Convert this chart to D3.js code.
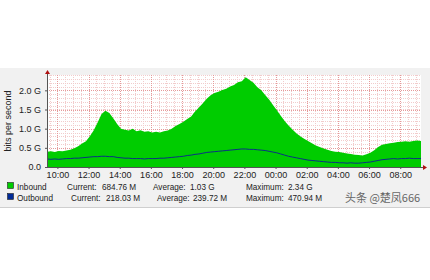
<!DOCTYPE html>
<html>
<head>
<meta charset="utf-8">
<script src="https://cdn.jsdelivr.net/npm/d3@7"></script>
<style>
  body { margin: 0; background: #fff; }
  svg { display: block; font-family: "Liberation Sans", Arial, sans-serif; }
</style>
</head>
<body>
<script>
// samples every 15 minutes, starting 09:20 and ending 09:20 next day (values in G bits/s)
const startTime = new Date(2020, 0, 1, 9, 20);
const stepMinutes = 15;

const inbound = [
  0.40, 0.41, 0.39, 0.42,
  0.41, 0.43, 0.45, 0.49,
  0.54, 0.61, 0.67, 0.80,
  0.96, 1.16, 1.38, 1.47,
  1.41, 1.27, 1.12, 1.00,
  0.97, 0.95, 1.00, 0.93,
  0.96, 0.92, 0.93, 0.90,
  0.92, 0.90, 0.93, 0.95,
  1.00, 1.07, 1.12, 1.18,
  1.25, 1.32, 1.45, 1.55,
  1.66, 1.78, 1.87, 1.93,
  1.96, 2.01, 2.04, 2.10,
  2.14, 2.21, 2.24, 2.34,
  2.27, 2.20, 2.08, 2.00,
  1.88, 1.76, 1.62, 1.48,
  1.34, 1.20, 1.08, 0.98,
  0.88, 0.80, 0.74, 0.68,
  0.62, 0.56, 0.52, 0.48,
  0.45, 0.42, 0.40, 0.39,
  0.37, 0.35, 0.34, 0.32,
  0.31, 0.30, 0.33, 0.37,
  0.44, 0.52, 0.58, 0.60,
  0.62, 0.63, 0.65, 0.66,
  0.67, 0.66, 0.68, 0.69,
  0.68
];

const outbound = [
  0.21, 0.20, 0.21, 0.20,
  0.21, 0.22, 0.22, 0.23,
  0.23, 0.24, 0.25, 0.26,
  0.27, 0.27, 0.28, 0.28,
  0.27, 0.27, 0.25, 0.24,
  0.23, 0.23, 0.22, 0.22,
  0.22, 0.21, 0.22, 0.22,
  0.22, 0.23, 0.23, 0.24,
  0.25, 0.26, 0.27, 0.28,
  0.30, 0.31, 0.33, 0.34,
  0.36, 0.38, 0.39, 0.40,
  0.41, 0.42, 0.43, 0.44,
  0.45, 0.46, 0.47, 0.47,
  0.46, 0.46, 0.45, 0.44,
  0.43, 0.41, 0.39, 0.37,
  0.34, 0.31, 0.28, 0.26,
  0.24, 0.22, 0.20, 0.18,
  0.17, 0.16, 0.15, 0.14,
  0.13, 0.12, 0.12, 0.11,
  0.11, 0.10, 0.11, 0.10,
  0.10, 0.11, 0.12, 0.13,
  0.15, 0.17, 0.19, 0.20,
  0.21, 0.22, 0.21, 0.22,
  0.22, 0.23, 0.22, 0.22,
  0.22
];

const yTicks = [0, 0.5, 1.0, 1.5, 2.0];
const yTickLabels = ["0.0", "0.5 G", "1.0 G", "1.5 G", "2.0 G"];

const legendRows = [
  { name: "Inbound", color: "#00cc00", current: "684.76 M", average: "1.03 G", maximum: "2.34 G" },
  { name: "Outbound", color: "#002a97", current: "218.03 M", average: "239.72 M", maximum: "470.94 M" }
];

const width = 430;
const height = 280;
const plot = { left: 47, right: 421, top: 75, bottom: 167 };

const timeAt = (i) => new Date(startTime.getTime() + i * stepMinutes * 60000);
const inData = inbound.map((v, i) => [timeAt(i), v]);
const outData = outbound.map((v, i) => [timeAt(i), v]);
const endTime = timeAt(inbound.length - 1);

const xScale = d3.scaleTime().domain([startTime, endTime]).range([plot.left, plot.right]);
const yScale = d3.scaleLinear().domain([0, 2.4]).range([plot.bottom, plot.top]);

const svg = d3
  .select("body")
  .append("svg")
  .attr("width", width)
  .attr("height", height);

// grey canvas of the rrd image
svg
  .append("rect")
  .attr("x", 0)
  .attr("y", 68)
  .attr("width", width)
  .attr("height", 139)
  .attr("fill", "#f1f1f1");

svg
  .append("line")
  .attr("x1", 0)
  .attr("x2", width)
  .attr("y1", 207.5)
  .attr("y2", 207.5)
  .attr("stroke", "#cfcfcf");

svg
  .append("rect")
  .attr("x", plot.left)
  .attr("y", plot.top)
  .attr("width", plot.right - plot.left)
  .attr("height", plot.bottom - plot.top)
  .attr("fill", "#ffffff");

// grid
const grid = svg.append("g");
const minorY = d3.range(0.1, 2.41, 0.1);
grid
  .selectAll("line.hminor")
  .data(minorY)
  .enter()
  .append("line")
  .attr("x1", plot.left)
  .attr("x2", plot.right)
  .attr("y1", (d) => Math.round(yScale(d)) + 0.5)
  .attr("y2", (d) => Math.round(yScale(d)) + 0.5)
  .attr("stroke", "#f2cccc")
  .attr("stroke-dasharray", "1,1");

const minorX = d3.timeMinute.every(30).range(startTime, endTime);
grid
  .selectAll("line.vminor")
  .data(minorX)
  .enter()
  .append("line")
  .attr("x1", (d) => Math.round(xScale(d)) + 0.5)
  .attr("x2", (d) => Math.round(xScale(d)) + 0.5)
  .attr("y1", plot.top)
  .attr("y2", plot.bottom)
  .attr("stroke", "#f2cccc")
  .attr("stroke-dasharray", "1,1");

grid
  .selectAll("line.hmajor")
  .data(yTicks.slice(1))
  .enter()
  .append("line")
  .attr("x1", plot.left)
  .attr("x2", plot.right)
  .attr("y1", (d) => Math.round(yScale(d)) + 0.5)
  .attr("y2", (d) => Math.round(yScale(d)) + 0.5)
  .attr("stroke", "#e59a9a")
  .attr("stroke-dasharray", "1,1");

const majorX = d3.timeHour.every(2).range(startTime, endTime);
grid
  .selectAll("line.vmajor")
  .data(majorX)
  .enter()
  .append("line")
  .attr("x1", (d) => Math.round(xScale(d)) + 0.5)
  .attr("x2", (d) => Math.round(xScale(d)) + 0.5)
  .attr("y1", plot.top)
  .attr("y2", plot.bottom)
  .attr("stroke", "#e59a9a")
  .attr("stroke-dasharray", "1,1");

// inbound area
svg
  .append("path")
  .datum(inData)
  .attr("fill", "#00cc00")
  .attr(
    "d",
    d3
      .area()
      .x((d) => xScale(d[0]))
      .y0(yScale(0))
      .y1((d) => yScale(d[1]))
  );

// outbound line
svg
  .append("path")
  .datum(outData)
  .attr("fill", "none")
  .attr("stroke", "#0b2f86")
  .attr("stroke-width", 1)
  .attr(
    "d",
    d3
      .line()
      .x((d) => xScale(d[0]))
      .y((d) => yScale(d[1]))
  );

// axes
const yAxis = svg
  .append("g")
  .attr("transform", `translate(${plot.left}, 0)`)
  .call(
    d3
      .axisLeft(yScale)
      .tickValues(yTicks)
      .tickSize(2)
      .tickPadding(4)
      .tickFormat((d, i) => yTickLabels[i])
  );
yAxis.select(".domain").attr("d", `M0.5,${plot.bottom}V${plot.top - 1}`).attr("stroke", "#555");
yAxis.selectAll("text").style("font-size", "9px").attr("fill", "#222");
yAxis.selectAll("line").attr("stroke", "#555");

const xAxis = svg
  .append("g")
  .attr("transform", `translate(0, ${plot.bottom})`)
  .call(
    d3
      .axisBottom(xScale)
      .ticks(d3.timeHour.every(2))
      .tickSize(2)
      .tickPadding(3)
      .tickFormat(d3.timeFormat("%H:%M"))
  );
xAxis.select(".domain").attr("d", `M${plot.left},0.5H${plot.right + 2}`).attr("stroke", "#555");
xAxis.selectAll("text").style("font-size", "9px").attr("fill", "#222");
xAxis.selectAll("line").attr("stroke", "#555");

// arrow heads
svg
  .append("path")
  .attr("d", `M${plot.left - 2},${plot.top - 1}L${plot.left + 3},${plot.top - 1}L${plot.left + 0.5},${plot.top - 5}Z`)
  .attr("fill", "#b01010");
svg
  .append("path")
  .attr("d", `M${plot.right + 2},${plot.bottom - 2}L${plot.right + 2},${plot.bottom + 3}L${plot.right + 6},${plot.bottom + 0.5}Z`)
  .attr("fill", "#b01010");

svg
  .append("text")
  .attr("transform", "rotate(-90)")
  .attr("x", -121)
  .attr("y", 11)
  .attr("text-anchor", "middle")
  .style("font-size", "9px")
  .attr("fill", "#222")
  .text("bits per second");

// legend
const legendY = [187, 198];
const legendCols = [
  { label: [67, 71], value: [102, 106] },
  { label: [153, 157], value: [190, 193] },
  { label: [246, 246], value: [288, 288] }
];

legendRows.forEach((row, r) => {
  const y = legendY[r];
  svg
    .append("rect")
    .attr("x", 7.5)
    .attr("y", y - 4.5)
    .attr("width", 6)
    .attr("height", 6)
    .attr("fill", row.color)
    .attr("stroke", "#222")
    .attr("stroke-width", 0.6);
  const parts = [
    [17, row.name],
    [legendCols[0].label[r], "Current:"],
    [legendCols[0].value[r], row.current],
    [legendCols[1].label[r], "Average:"],
    [legendCols[1].value[r], row.average],
    [legendCols[2].label[r], "Maximum:"],
    [legendCols[2].value[r], row.maximum]
  ];
  parts.forEach(([x, t]) => {
    svg
      .append("text")
      .attr("x", x)
      .attr("y", y + 3)
      .style("font-size", "8.2px")
      .attr("fill", "#222")
      .text(t);
  });
});

svg
  .append("text")
  .attr("x", 345)
  .attr("y", 202)
  .style("font-family", "'Noto Sans CJK SC', sans-serif")
  .style("font-size", "11px")
  .attr("fill", "#666")
  .text("头条 @楚凤666");
</script>
</body>
</html>
